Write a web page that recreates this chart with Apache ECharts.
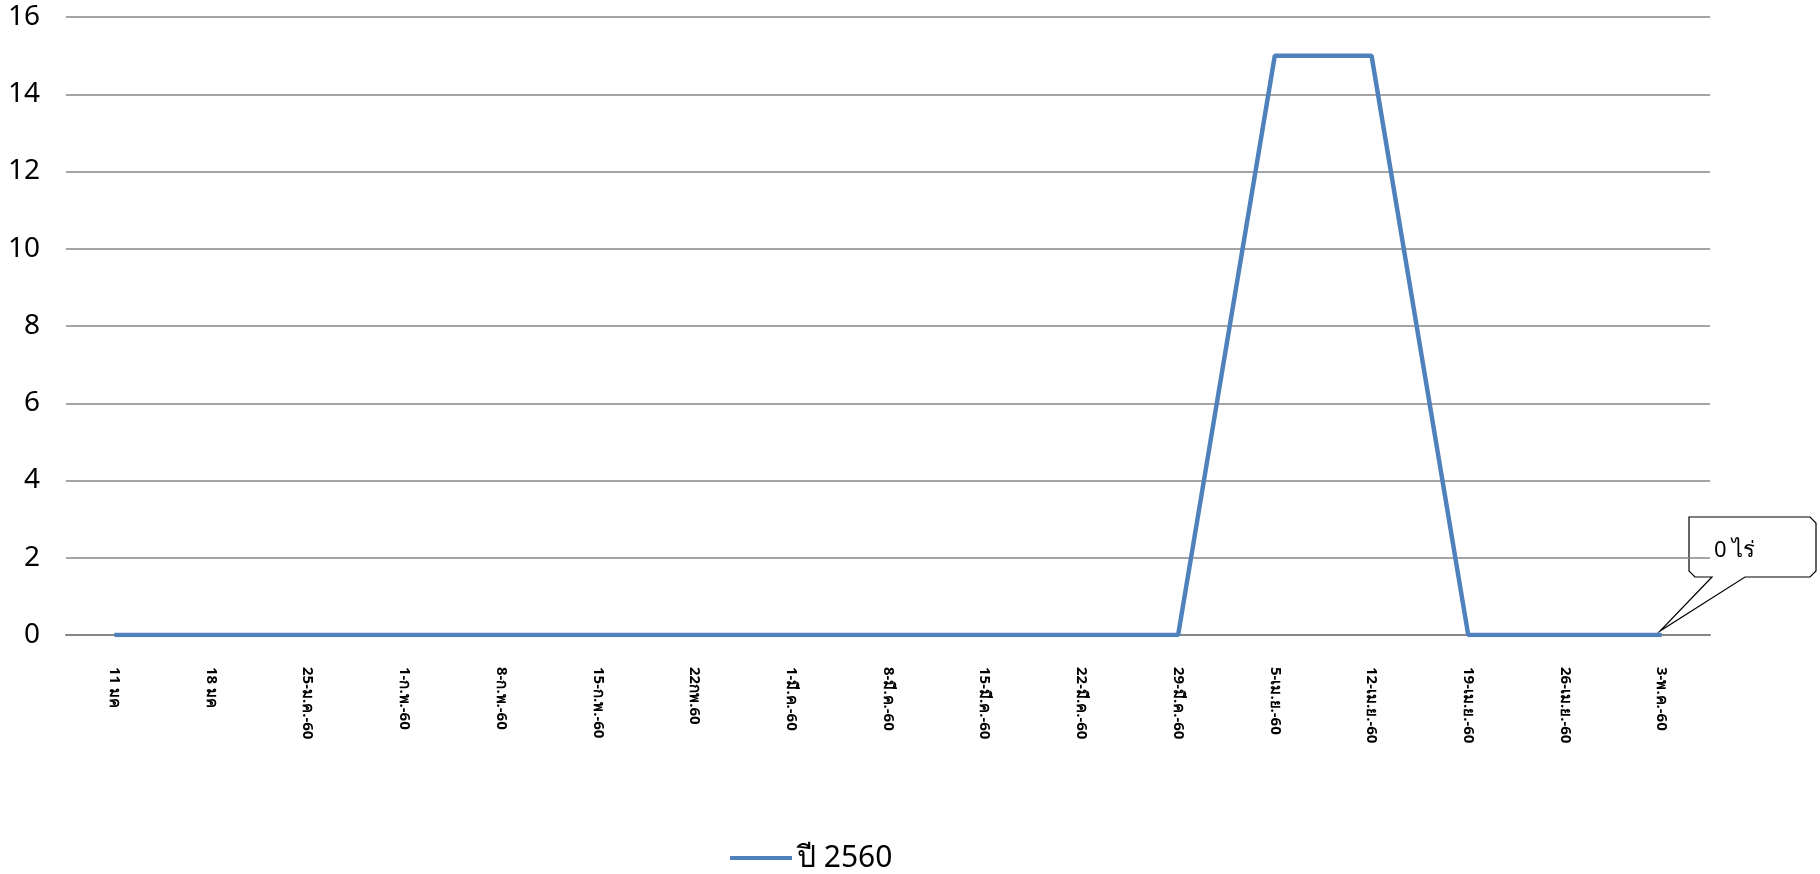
<!DOCTYPE html>
<html><head><meta charset="utf-8">
<script src="https://cdn.jsdelivr.net/npm/echarts@6/dist/echarts.min.js"></script>
<style>html,body{margin:0;background:#fff}#c{width:1820px;height:874px}</style>
</head><body><div id="c"></div>
<script>
const categories = ["11 มค","18 มค","25-ม.ค.-60","1-ก.พ.-60","8-ก.พ.-60","15-ก.พ.-60","22กพ.60","1-มี.ค.-60","8-มี.ค.-60","15-มี.ค.-60","22-มี.ค.-60","29-มี.ค.-60","5-เม.ย.-60","12-เม.ย.-60","19-เม.ย.-60","26-เม.ย.-60","3-พ.ค.-60"];
const values2560 = [0,0,0,0,0,0,0,0,0,0,0,0,15,15,0,0,0];
const yTicks = {min:0,max:16,interval:2};
const chart = echarts.init(document.getElementById('c'));
chart.setOption({
  animation:false,
  grid:{left:66,right:110,top:17,bottom:239,containLabel:false},
  xAxis:{type:'category',data:categories,boundaryGap:true,
    axisLine:{lineStyle:{color:'#868686',width:2}},axisTick:{show:false},
    axisLabel:{rotate:-90,color:'#000',fontSize:15,fontWeight:'bold',margin:32,fontFamily:'Noto Sans, sans-serif',verticalAlign:'middle'}},
  yAxis:{type:'value',min:yTicks.min,max:yTicks.max,interval:yTicks.interval,
    axisLine:{show:false},axisTick:{show:false},
    splitLine:{lineStyle:{color:'#868686',width:1.5}},
    axisLabel:{color:'#000',fontSize:28,margin:26,fontFamily:'Liberation Sans Narrow, Noto Sans, sans-serif'}},
  legend:{top:838,left:725,itemWidth:62,itemHeight:4,icon:'rect',
    textStyle:{fontSize:30,color:'#000',fontFamily:'Liberation Sans Narrow, Noto Sans, sans-serif'}},
  series:[{name:'ปี 2560',type:'line',data:values2560,symbol:'none',
    lineStyle:{color:'#4F81BD',width:4.5},itemStyle:{color:'#4F81BD'}}],
  graphic:[
    {type:'polygon',shape:{points:[[1689,517],[1810,517],[1816,523],[1816,571],[1810,577],[1745,577],[1660,631],[1712,577],[1695,577],[1689,571]]},
     style:{fill:'#fff',stroke:'#000',lineWidth:1.2}},
    {type:'text',left:1714,top:540,style:{text:'0 ไร่',fontSize:22,fill:'#000',fontFamily:'Noto Sans, sans-serif'}}
  ]
});
</script></body></html>
